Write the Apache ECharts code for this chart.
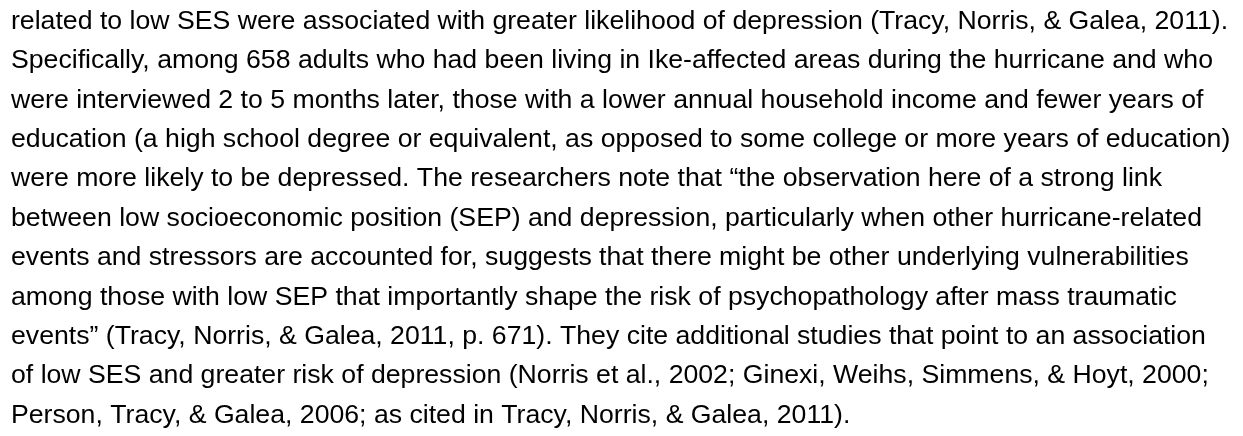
<!DOCTYPE html>
<html>
<head>
<meta charset="utf-8">
<script src="https://cdn.jsdelivr.net/npm/echarts@6/dist/echarts.min.js"></script>
<style>
  html, body { margin: 0; padding: 0; background: #ffffff; }
  #chart { width: 1243px; height: 436px; }
</style>
</head>
<body>
<div id="chart"></div>
<script>
const lines = [
  "related to low SES were associated with greater likelihood of depression (Tracy, Norris, & Galea, 2011).",
  "Specifically, among 658 adults who had been living in Ike-affected areas during the hurricane and who",
  "were interviewed 2 to 5 months later, those with a lower annual household income and fewer years of",
  "education (a high school degree or equivalent, as opposed to some college or more years of education)",
  "were more likely to be depressed. The researchers note that \u201cthe observation here of a strong link",
  "between low socioeconomic position (SEP) and depression, particularly when other hurricane-related",
  "events and stressors are accounted for, suggests that there might be other underlying vulnerabilities",
  "among those with low SEP that importantly shape the risk of psychopathology after mass traumatic",
  "events\u201d (Tracy, Norris, & Galea, 2011, p. 671). They cite additional studies that point to an association",
  "of low SES and greater risk of depression (Norris et al., 2002; Ginexi, Weihs, Simmens, & Hoyt, 2000;",
  "Person, Tracy, & Galea, 2006; as cited in Tracy, Norris, & Galea, 2011)."
];

const chart = echarts.init(document.getElementById('chart'), null, { renderer: 'canvas' });
const leftX = 11;
const firstBaseline = 30.7;
const lineStep = 39.4;
const fontSize = 26;
const widthScale = 1.025;
const middleOffset = fontSize * 0.3465;

chart.setOption({
  backgroundColor: '#ffffff',
  animation: false,
  graphic: {
    elements: lines.map((t, i) => ({
      type: 'text',
      x: leftX,
      y: firstBaseline - middleOffset + i * lineStep,
      scaleX: widthScale,
      silent: true,
      style: {
        text: t,
        fill: '#000000',
        font: 'normal ' + fontSize + 'px "Liberation Sans", Arial, sans-serif',
        align: 'left',
        verticalAlign: 'middle'
      }
    }))
  }
});
</script>
</body>
</html>
